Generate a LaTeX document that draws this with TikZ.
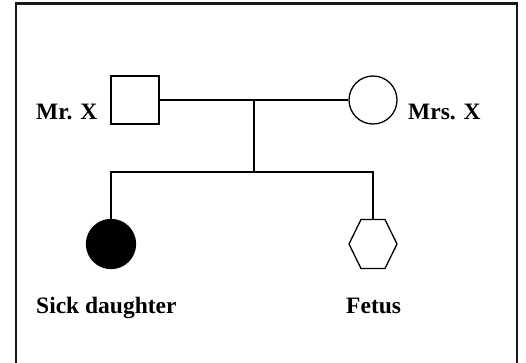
\documentclass[tikz,border=0pt]{standalone}
\usepackage{fontspec}
\setmainfont{Liberation Serif}
\begin{document}
\begin{tikzpicture}[x=1pt,y=-1pt,
  sym/.style={draw=black,line width=1.3pt,inner sep=0pt,minimum size=48pt},
  lbl/.style={inner sep=0pt,anchor=base west,font=\fontsize{23.5}{26}\selectfont\bfseries},
  conn/.style={line width=1.3pt}]
\useasboundingbox (0,0) rectangle (526,362);
\draw[line width=2.2pt,draw=black!90] (16,3.5) rectangle (517,380);
\node[sym,rectangle] (mr) at (135,100) {};
\node[sym,circle] (mrs) at (373,100) {};
\node[sym,circle,fill=black,minimum size=49pt] (dau) at (111,244) {};
\draw[conn,line join=round] (349,244) -- (361,219.5) -- (385,219.5) -- (397,244) -- (385,268.5) -- (361,268.5) -- cycle;
\coordinate (fetus) at (373,219.5);
\coordinate (m) at (254,100);
\coordinate (s) at (254,172);
\coordinate (sl) at (111,172);
\coordinate (sr) at (373,172);
\draw[conn] (mr.east) -- (mrs.west);
\draw[conn] (m) -- (s);
\draw[conn] (dau.north) -- (sl) -- (sr) -- (fetus);
\node[lbl] (lmr) at (36,119) {Mr. X};
\node[lbl] (lmrs) at (408,119) {Mrs. X};
\node[lbl] (ldau) at (36,313) {Sick daughter};
\node[lbl] (lfet) at (346,313) {Fetus};
\end{tikzpicture}
\end{document}
